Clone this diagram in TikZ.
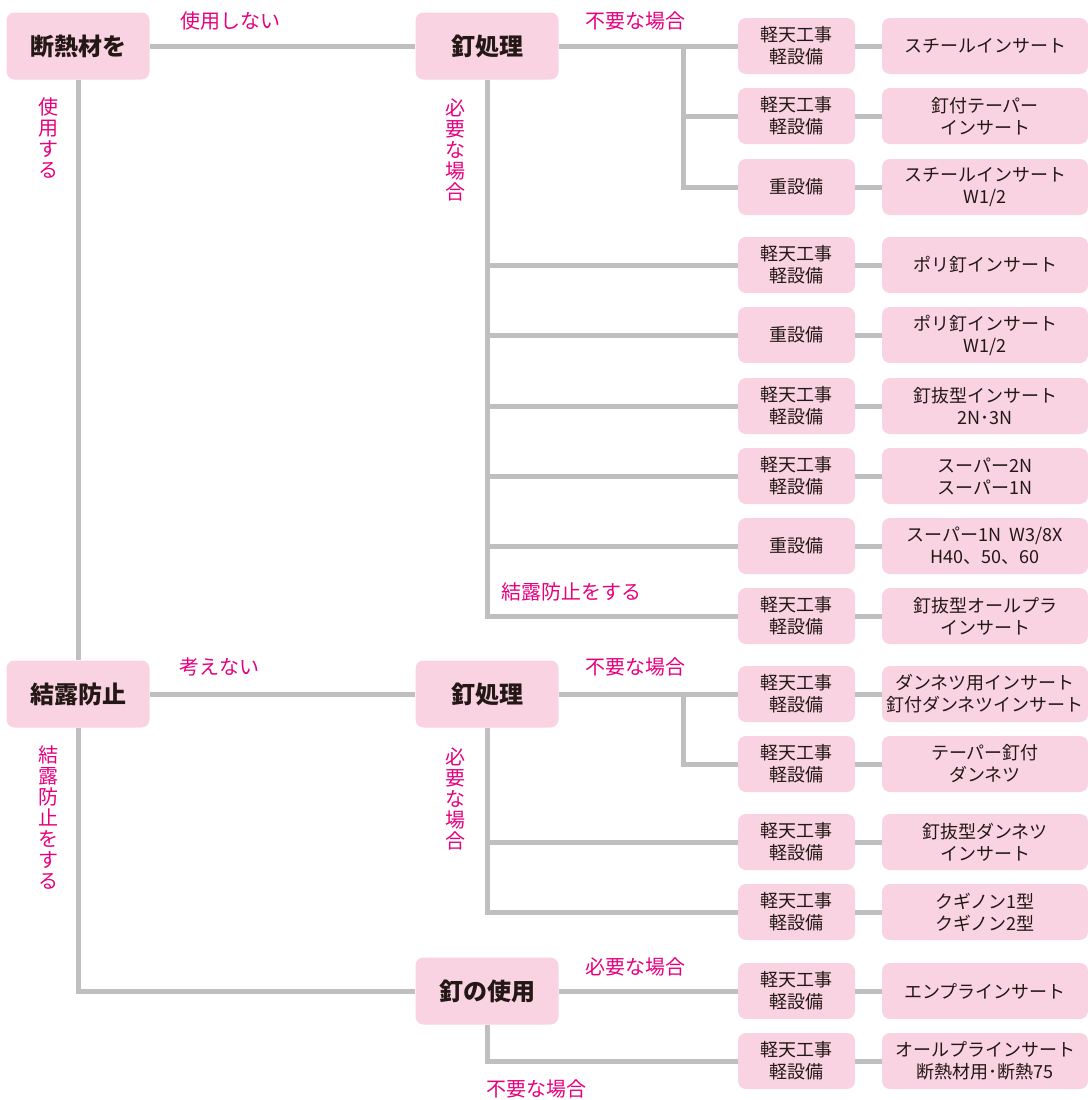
\documentclass[tikz,border=0pt]{standalone}
\usepackage{fontspec}
\setmainfont{Noto Sans CJK JP}
\usepackage{xcolor}
\usepackage{tikz}
\definecolor{boxPink}{HTML}{FAD3E3}
\definecolor{lineGrey}{HTML}{BFBFBF}
\definecolor{labelMagenta}{HTML}{E6007E}
\definecolor{inkDark}{HTML}{231815}

\begin{document}
\begin{tikzpicture}[
  x=0.75pt,y=-0.75pt,
  mainbox/.style={rectangle,rounded corners=6pt,fill=boxPink,text=inkDark,inner sep=0pt,minimum width=107.25pt,minimum height=50.25pt,font=\fontsize{18}{20}\selectfont\bfseries},
  sitebox/.style={rectangle,rounded corners=6pt,fill=boxPink,text=inkDark,inner sep=0pt,align=center,minimum width=87.75pt,minimum height=42pt,font=\fontsize{13.5}{16.5}\selectfont},
  itembox/.style={sitebox,minimum width=154.5pt},
  cond/.style={text=labelMagenta,inner sep=0pt,font=\fontsize{15}{15.75}\selectfont},
  vcond/.style={cond,align=center},
  link/.style={draw=lineGrey,line width=3.75pt}
]
\useasboundingbox (0,0) rectangle (1088,1100);
% first level
\node[mainbox] (dannetsu) at (78,46) {断熱材を};
\node[mainbox] (ketsuro) at (78,694) {結露防止};
% second level
\node[mainbox] (kugiA) at (487,46) {釘処理};
\node[mainbox] (kugiB) at (487,694) {釘処理};
\node[mainbox] (kugiUse) at (487,991) {釘の使用};
% sites
\node[sitebox] (site1) at (796.5,46) {軽天工事\\軽設備};
\node[sitebox] (site2) at (796.5,116) {軽天工事\\軽設備};
\node[sitebox] (site3) at (796.5,187) {重設備};
\node[sitebox] (site4) at (796.5,265) {軽天工事\\軽設備};
\node[sitebox] (site5) at (796.5,335) {重設備};
\node[sitebox] (site6) at (796.5,406) {軽天工事\\軽設備};
\node[sitebox] (site7) at (796.5,476) {軽天工事\\軽設備};
\node[sitebox] (site8) at (796.5,546) {重設備};
\node[sitebox] (site9) at (796.5,616) {軽天工事\\軽設備};
\node[sitebox] (site10) at (796.5,694) {軽天工事\\軽設備};
\node[sitebox] (site11) at (796.5,764) {軽天工事\\軽設備};
\node[sitebox] (site12) at (796.5,842) {軽天工事\\軽設備};
\node[sitebox] (site13) at (796.5,912) {軽天工事\\軽設備};
\node[sitebox] (site14) at (796.5,991) {軽天工事\\軽設備};
\node[sitebox] (site15) at (796.5,1061) {軽天工事\\軽設備};
% inserts
\node[itembox] (insert1) at (985,46) {スチールインサート};
\node[itembox] (insert2) at (985,116) {釘付テーパー\\インサート};
\node[itembox] (insert3) at (985,187) {スチールインサート\\W1/2};
\node[itembox] (insert4) at (985,265) {ポリ釘インサート};
\node[itembox] (insert5) at (985,335) {ポリ釘インサート\\W1/2};
\node[itembox] (insert6) at (985,406) {釘抜型インサート\\2N･3N};
\node[itembox] (insert7) at (985,476) {スーパー2N\\スーパー1N};
\node[itembox] (insert8) at (985,546) {スーパー1N\ \ W3/8X\\H40、50、60};
\node[itembox] (insert9) at (985,616) {釘抜型オールプラ\\インサート};
\node[itembox] (insert10) at (985,694) {ダンネツ用インサート\\釘付ダンネツインサート};
\node[itembox] (insert11) at (985,764) {テーパー釘付\\ダンネツ};
\node[itembox] (insert12) at (985,842) {釘抜型ダンネツ\\インサート};
\node[itembox] (insert13) at (985,912) {クギノン1型\\クギノン2型};
\node[itembox] (insert14) at (985,991) {エンプラインサート};
\node[itembox] (insert15) at (985,1061) {オールプラインサート\\断熱材用･断熱75};
% branch points
\coordinate (forkA) at (683,46);
\coordinate (forkB) at (683,694);
% connectors
\draw[link] (dannetsu) -- (kugiA);
\draw[link] (dannetsu) -- (ketsuro);
\draw[link] (kugiA) -- (site1);
\draw[link] (forkA) |- (site2);
\draw[link] (forkA) |- (site3);
\draw[link] (kugiA) |- (site4);
\draw[link] (kugiA) |- (site5);
\draw[link] (kugiA) |- (site6);
\draw[link] (kugiA) |- (site7);
\draw[link] (kugiA) |- (site8);
\draw[link] (kugiA) |- (site9);
\draw[link] (ketsuro) -- (kugiB);
\draw[link] (ketsuro) |- (kugiUse);
\draw[link] (kugiB) -- (site10);
\draw[link] (forkB) |- (site11);
\draw[link] (kugiB) |- (site12);
\draw[link] (kugiB) |- (site13);
\draw[link] (kugiUse) -- (site14);
\draw[link] (kugiUse) |- (site15);
\draw[link] (site1) -- (insert1);
\draw[link] (site2) -- (insert2);
\draw[link] (site3) -- (insert3);
\draw[link] (site4) -- (insert4);
\draw[link] (site5) -- (insert5);
\draw[link] (site6) -- (insert6);
\draw[link] (site7) -- (insert7);
\draw[link] (site8) -- (insert8);
\draw[link] (site9) -- (insert9);
\draw[link] (site10) -- (insert10);
\draw[link] (site11) -- (insert11);
\draw[link] (site12) -- (insert12);
\draw[link] (site13) -- (insert13);
\draw[link] (site14) -- (insert14);
\draw[link] (site15) -- (insert15);
% condition labels
\node[cond] (notUsed) at (230,21) {使用しない};
\node[vcond] (used) at (48,138) {使\\用\\す\\る};
\node[cond] (noNeedA) at (635,21) {不要な場合};
\node[vcond] (needA) at (455,150) {必\\要\\な\\場\\合};
\node[cond] (antiDew) at (571,592) {結露防止をする};
\node[cond] (ignore) at (219,667) {考えない};
\node[vcond] (antiDewV) at (48,818) {結\\露\\防\\止\\を\\す\\る};
\node[cond] (noNeedB) at (635,667) {不要な場合};
\node[vcond] (needB) at (455,799) {必\\要\\な\\場\\合};
\node[cond] (needC) at (635,967) {必要な場合};
\node[cond] (noNeedC) at (536,1089) {不要な場合};
\end{tikzpicture}
\end{document}
